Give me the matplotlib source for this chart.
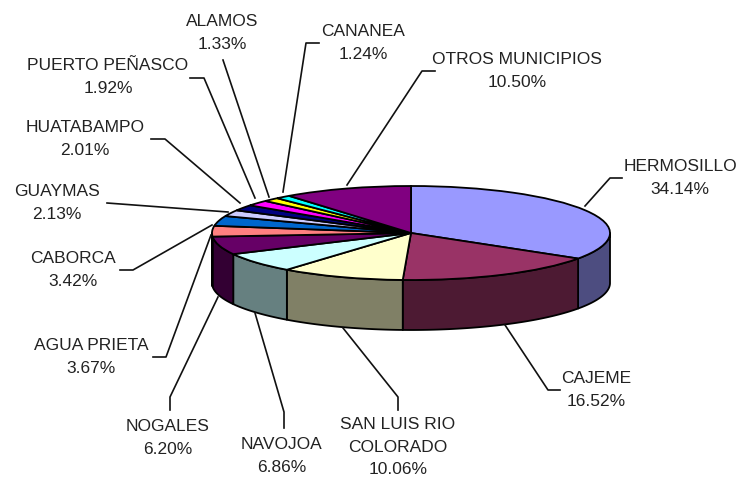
import numpy as np
import matplotlib
matplotlib.use("Agg")
import matplotlib.pyplot as plt

plt.rcParams['font.family'] = ['Liberation Sans', 'DejaVu Sans']

names = ["HERMOSILLO", "CAJEME", "SAN LUIS RIO\nCOLORADO", "NAVOJOA", "NOGALES", "AGUA PRIETA",
         "CABORCA", "GUAYMAS", "HUATABAMPO", "PUERTO PEÑASCO", "ALAMOS", "CANANEA", "OTROS MUNICIPIOS"]
values = [34.14, 16.52, 10.06, 6.86, 6.20, 3.67, 3.42, 2.13, 2.01, 1.92, 1.33, 1.24, 10.50]
colors = ["#9999ff", "#993366", "#ffffcc", "#ccffff", "#660066", "#ff8080", "#0066cc",
          "#ccccff", "#000080", "#ff00ff", "#ffff00", "#00ffff", "#800080"]
side_colors = ["#4d4d80", "#4d1a33", "#808066", "#668080", "#330033", "#804040", "#003366",
               "#666680", "#000040", "#800080", "#808000", "#008080", "#400040"]

# label centre and leader line in image pixels
label_pos = [(680, 178), (596, 390), (398, 447), (282, 456), (168, 438), (91, 357),
             (73, 270), (57, 203), (85, 139), (108, 77), (222, 33), (363, 43), (517, 71)]
leaders = [[(585, 206), (610, 178), (622, 178)],
           [(505, 325), (548, 390), (560, 390)],
           [(343, 328), (398, 397), (398, 410)],
           [(255, 313), (284, 412), (284, 428)],
           [(218, 297), (170, 397), (170, 410)],
           [(211, 235), (166, 357), (153, 357)],
           [(212, 225), (133, 270), (120, 270)],
           [(107, 203), (228, 212)],
           [(151, 139), (165, 139), (240, 203)],
           [(190, 78), (204, 78), (255, 198)],
           [(223, 60), (269, 197)],
           [(319, 43), (306, 43), (283, 192)],
           [(347, 185), (422, 71), (435, 71)]]

W, H = 736, 478
cx, cy = 411, 233
rx, ry = 199, 47
depth = 50

fig = plt.figure(figsize=(W / 100, H / 100), dpi=100)
ax = fig.add_axes([0, 0, 1, 1])

# side walls, only the front half of the ellipse shows
edges = np.concatenate([[0], np.cumsum(values)]) / sum(values) * 2 * np.pi
d = depth / ry
for i in range(len(values)):
    a0 = max(edges[i], np.pi / 2)
    a1 = min(edges[i + 1], 3 * np.pi / 2)
    if a1 <= a0:
        continue
    t = np.linspace(a0, a1, 60)
    xs = np.sin(t)
    ys = np.cos(t)
    ax.fill(np.r_[xs, xs[::-1]], np.r_[ys, ys[::-1] - d],
            facecolor=side_colors[i], edgecolor="black", linewidth=1.3, joinstyle="round")

ax.pie(values, colors=colors, startangle=90, counterclock=False, radius=1,
       wedgeprops=dict(edgecolor="black", linewidth=1.3))
ax.set_aspect("auto")
ax.set_xlim(-cx / rx, (W - cx) / rx)
ax.set_ylim((cy - H) / ry, cy / ry)
ax.axis("off")

# overlay in pixel coordinates for labels
ov = fig.add_axes([0, 0, 1, 1], facecolor="none")
ov.set_xlim(0, W)
ov.set_ylim(H, 0)
ov.axis("off")

for name, v, (lx, ly), pts in zip(names, values, label_pos, leaders):
    p = np.array(pts)
    ov.plot(p[:, 0], p[:, 1], color="#111111", lw=1.2)
    ov.text(lx, ly, "%s\n%.2f%%" % (name, v), ha="center", va="center",
            fontsize=12.5, color="#222222", linespacing=1.62, clip_on=False)

fig.savefig("out.png", dpi=100)
